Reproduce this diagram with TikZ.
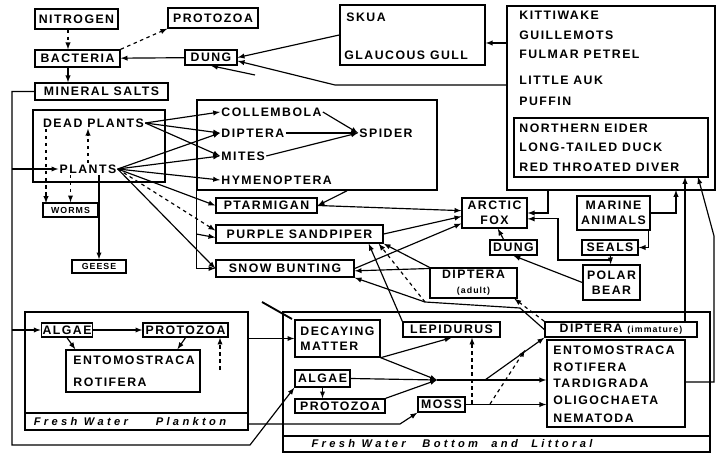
\documentclass[tikz,border=0pt]{standalone}
\usepackage{fontspec}
\setmainfont{Liberation Sans}[LetterSpace=12]
\newcommand{\lbfont}{\fontsize{10.5}{12.5}\selectfont\bfseries}
\newcommand{\smfont}{\fontsize{7.5}{9}\selectfont\bfseries}
\newcommand{\capfont}{\fontsize{9.5}{11}\selectfont\itshape\bfseries\addfontfeature{LetterSpace=30}}
\begin{document}
\begin{tikzpicture}[x=0.03cm, y=-0.03cm,
	box/.style={shape=rectangle, draw, line width=1.2pt, inner sep=1pt, font=\lbfont},
	bigbox/.style={shape=rectangle, draw, line width=1.3pt, inner sep=0pt},
	txt/.style={anchor=west, inner sep=1pt, font=\lbfont},
	lbl/.style={inner sep=1pt, font=\lbfont},
	captxt/.style={inner sep=0pt, font=\capfont},
	ln/.style={line width=1pt},
	arr/.style={line width=1pt, -latex},
	darr/.style={arr, dashed}]
	\useasboundingbox (0,0) rectangle (717,454);
	\node[box, minimum width=2.49cm, minimum height=0.6cm] (nitrogen) at (76.5,19) {NITROGEN};
	\node[box, minimum width=2.7cm, minimum height=0.6cm] (protoTop) at (213,18) {PROTOZOA};
	\node[box, minimum width=2.55cm, minimum height=0.51cm] (bacteria) at (77.5,58.5) {BACTERIA};
	\node[box, minimum width=1.56cm, minimum height=0.45cm] (dungTop) at (211,57.5) {DUNG};
	\node[box, minimum width=3.99cm, minimum height=0.51cm] (salts) at (101.5,91.5) {MINERAL SALTS};
	\node[bigbox, minimum width=4.35cm, minimum height=1.8cm] (skua) at (412.5,35) {};
	\node[txt] (skuaTxt) at (345,17) {SKUA};
	\node[txt] (gullTxt) at (343,55) {GLAUCOUS GULL};
	\node[bigbox, minimum width=6.24cm, minimum height=5.52cm] (seabirds) at (611,98) {};
	\node[txt] (kittiwake) at (518,15) {KITTIWAKE};
	\node[txt] (guillemots) at (518,35) {GUILLEMOTS};
	\node[txt] (fulmar) at (518,54) {FULMAR PETREL};
	\node[txt] (auk) at (518,80) {LITTLE AUK};
	\node[txt] (puffin) at (518,101) {PUFFIN};
	\node[bigbox, minimum width=5.82cm, minimum height=1.77cm] (eiders) at (611,147.5) {};
	\node[txt] (eider) at (518,128) {NORTHERN EIDER};
	\node[txt] (duck) at (518,147.5) {LONG-TAILED DUCK};
	\node[txt] (diver) at (518,167) {RED THROATED DIVER};
	\node[bigbox, minimum width=3.96cm, minimum height=2.16cm] (plantBox) at (99,146) {};
	\node[lbl] (dead) at (93.5,123) {DEAD PLANTS};
	\node[lbl] (plants) at (88,169) {PLANTS};
	\node[box, font=\smfont, minimum width=1.65cm, minimum height=0.42cm] (worms) at (70.5,210) {WORMS};
	\node[box, font=\smfont, minimum width=1.62cm, minimum height=0.39cm] (geese) at (99,266.5) {GEESE};
	\node[bigbox, minimum width=7.2cm, minimum height=2.7cm] (invBox) at (317,145) {};
	\node[txt] (collembola) at (220,112) {COLLEMBOLA};
	\node[txt] (diptera) at (220,133) {DIPTERA};
	\node[txt] (spider) at (358,133) {SPIDER};
	\node[txt] (mites) at (220,156) {MITES};
	\node[txt] (hymenoptera) at (220,180) {HYMENOPTERA};
	\node[box, minimum width=3.03cm, minimum height=0.45cm] (ptarmigan) at (266.5,205.5) {PTARMIGAN};
	\node[box, minimum width=5.01cm, minimum height=0.54cm] (sandpiper) at (299.5,234) {PURPLE SANDPIPER};
	\node[box, minimum width=4.14cm, minimum height=0.51cm] (bunting) at (285,268.5) {SNOW BUNTING};
	\node[box, align=center, minimum width=1.95cm, minimum height=0.9cm] (fox) at (494.5,213) {ARCTIC\\FOX};
	\node[box, minimum width=1.41cm, minimum height=0.45cm] (dungMid) at (513.5,247.5) {DUNG};
	\node[box, align=center, minimum width=2.19cm, minimum height=1.02cm] (marine) at (613.5,213) {MARINE\\ANIMALS};
	\node[box, minimum width=1.68cm, minimum height=0.45cm] (seals) at (610,247.5) {SEALS};
	\node[box, align=center, minimum width=1.71cm, minimum height=1.05cm] (bear) at (611.5,282.5) {POLAR\\BEAR};
	\node[box, align=center, minimum width=2.61cm, minimum height=0.9cm] (dipAdult) at (473.5,283) {DIPTERA\\{\smfont(adult)}};
	\node[bigbox, minimum width=6.69cm, minimum height=3.54cm] (plankton) at (136.5,371) {};
	\draw[ln] (plankton.west |- 0,413) -- (plankton.east |- 0,413);
	\node[captxt] (planktonCap) at (130,422) {Fresh Water\hspace{2.5em}Plankton};
	\node[box, minimum width=1.5cm, minimum height=0.42cm] (algaeP) at (67,330) {ALGAE};
	\node[box, minimum width=2.55cm, minimum height=0.42cm] (protoP) at (185.5,330) {PROTOZOA};
	\node[bigbox, minimum width=4.02cm, minimum height=1.26cm] (entoP) at (133,371) {};
	\node[txt] (entoPa) at (72,360) {ENTOMOSTRACA};
	\node[txt] (entoPb) at (72,382) {ROTIFERA};
	\node[bigbox, line width=1.6pt, minimum width=12.81cm, minimum height=4.2cm] (bottom) at (496.5,382) {};
	\draw[ln, line width=1.4pt] (bottom.west |- 0,436) -- (bottom.east |- 0,436);
	\node[captxt] (bottomCap) at (452,444) {Fresh Water\hspace{1.5em}Bottom\hspace{1.2em}and\hspace{1.2em}Littoral};
	\node[box, align=left, minimum width=2.55cm, minimum height=1.11cm] (decay) at (337.5,338.5) {DECAYING\\MATTER};
	\node[box, minimum width=2.91cm, minimum height=0.45cm] (lepidurus) at (451.5,329.5) {LEPIDURUS};
	\node[box, minimum width=1.65cm, minimum height=0.51cm] (algaeB) at (322.5,378.5) {ALGAE};
	\node[box, minimum width=2.7cm, minimum height=0.42cm] (protoB) at (340,406) {PROTOZOA};
	\node[box, minimum width=1.41cm, minimum height=0.45cm] (moss) at (441.5,404.5) {MOSS};
	\node[box, minimum width=4.56cm, minimum height=0.45cm] (dipImm) at (621,329.5) {DIPTERA {\smfont(immature)}};
	\node[bigbox, minimum width=4.14cm, minimum height=2.61cm] (entoB) at (616,383.5) {};
	\node[txt] (entoBa) at (552,350) {ENTOMOSTRACA};
	\node[txt] (entoBb) at (552,367) {ROTIFERA};
	\node[txt] (entoBc) at (552,383.5) {TARDIGRADA};
	\node[txt] (entoBd) at (552,400.5) {OLIGOCHAETA};
	\node[txt] (entoBe) at (552,418) {NEMATODA};
	\coordinate (nitroDown) at (68,0);
	\coordinate (sbBend) at (335,85);
	\coordinate (skuaIn) at (485,43);
	\coordinate (stub) at (255,75);
	\coordinate (loopBot) at (12,445);
	\coordinate (loopEnd) at (250,445);
	\coordinate (mossBend) at (400,424);
	\coordinate (cornerA) at (262,302);
	\coordinate (cornerB) at (292,319);
	\coordinate (wormsIn) at (46,203);
	\coordinate (invOut) at (347,190);
	\coordinate (dImmA) at (520,308);
	\coordinate (dImmB) at (425,302);
	\coordinate (sbFox) at (548,190);
	\coordinate (mbUp) at (676,190);
	\coordinate (bearFox) at (558,260);
	\coordinate (eidIn) at (685,177);
	\coordinate (rightA) at (714,382);
	\coordinate (rightB) at (714,236);
	\coordinate (rightC) at (698,177);
	\coordinate (conv) at (437,380);
	\coordinate (split) at (485,380);
	\coordinate (mossR) at (472,404);
	\coordinate (mossD) at (490,404);
	\coordinate (mossTip) at (525,350);
	\coordinate (pdash) at (220,370);
	\draw[darr] (nitrogen.south -| nitroDown) -- (bacteria.north -| nitroDown);
	\draw[arr] (bacteria.south -| nitroDown) -- (salts.north -| nitroDown);
	\draw[arr] (dungTop) -- (bacteria);
	\draw[darr] (bacteria.north east) -- (protoTop.south west);
	\draw[arr] (skua.west) -- (dungTop.east);
	\draw[arr] (seabirds.west |- sbBend) -- (sbBend) -- ([yshift=-3pt]dungTop.east);
	\draw[arr] (seabirds.west |- skuaIn) -- (skua.east |- skuaIn);
	\draw[arr] (stub) -- (dungTop.south);
	\draw[arr] (salts.west) -| (loopBot) -- (loopEnd) -- (algaeB.south west);
	\draw[arr] (plants.west -| loopBot) -- (plants.west);
	\draw[arr] (algaeP.west -| loopBot) -- (algaeP.west);
	\draw[arr] (plankton.east |- decay.west) -- (decay.west);
	\draw[arr] (plankton.east |- mossBend) -- (mossBend) -- (moss.south west);
	\draw[ln, line width=1.6pt] (cornerA) -- (cornerB);
	\draw[arr] (dead.east) -- (collembola.west);
	\draw[arr] (dead.east) -- (diptera.west);
	\draw[arr] (dead.east) -- (mites.west);
	\draw[arr] (plants.east) -- (diptera.west);
	\draw[arr] (plants.east) -- (mites.west);
	\draw[arr] (plants.east) -- (hymenoptera.west);
	\draw[arr] (plants.east) -- (ptarmigan.west);
	\draw[darr] (plants.east) -- ([yshift=3pt]sandpiper.west);
	\draw[arr] (plants.east) -- (bunting.west);
	\draw[darr] (plants.north) -- (plants.north |- dead.south);
	\draw[darr] (dead.south -| wormsIn) -- (wormsIn);
	\draw[darr] (plants.south -| worms.north) -- (worms.north);
	\draw[arr] (plants.south -| geese.north) -- (geese.north);
	\draw[arr] (collembola.east) -- (spider.west);
	\draw[arr] (diptera.east) -- (spider.west);
	\draw[arr] (mites.east) -- (spider.west);
	\draw[arr] (invBox.south -| invOut) -- (ptarmigan.east);
	\draw[arr] (invBox.south west) |- (bunting.west);
	\draw[arr] (invBox.south west |- sandpiper.west) -- ([yshift=-3pt]sandpiper.west);
	\draw[arr] (ptarmigan.east) -- ([yshift=2pt]fox.west);
	\draw[arr] (sandpiper.east) -- ([yshift=-3pt]fox.west);
	\draw[arr] (bunting.east) -- ([yshift=-9pt]fox.west);
	\draw[arr] (dipAdult.west |- bunting.east) -- ([yshift=-2pt]bunting.east);
	\draw[arr] (dipImm.west) -- (dImmA) -- (dImmB) -- (bunting.south east);
	\draw[darr] (dImmB) -- ([xshift=-0.15cm]sandpiper.south east);
	\draw[arr] (lepidurus.north west) -- ([xshift=-0.45cm]sandpiper.south east);
	\draw[arr] (dipAdult.north west) -- (sandpiper.south east);
	\draw[darr] (dipImm.north west) -- ([xshift=-0.1cm]dipAdult.south east);
	\draw[arr] (sbFox) |- (fox.east);
	\draw[arr] (marine.east) -| (mbUp);
	\draw[arr] ([xshift=-2pt]marine.south east) |- (seals.east);
	\draw[arr] (seals) -- (bear);
	\draw[arr] (bear.north |- bearFox) -- (bearFox) |- ([yshift=-5pt]fox.east);
	\draw[arr] (bear.west) -- (dungMid.south);
	\draw[arr] ([xshift=-0.3cm]dungMid.north) -- ([xshift=0.1cm]fox.south);
	\draw[arr] (dipImm.north -| eidIn) -- (eidIn);
	\draw[arr] (entoB.east |- rightA) -- (rightA) -- (rightB) -- (rightC);
	\draw[arr] (decay.south east) -- (lepidurus.south);
	\draw[arr] (decay.south east) -- (conv);
	\draw[arr] (algaeB.east) -- (conv);
	\draw[arr] (protoB.north east) -- (conv);
	\draw[arr] (conv) -- (entoB.west |- conv);
	\draw[arr] (split) -- (dipImm.south west);
	\draw[arr] (algaeB.south) -- (algaeB.south |- protoB.north);
	\draw[arr] (moss.east) -- (entoB.west |- moss.east);
	\draw[darr] (mossR) -- (lepidurus.south -| mossR);
	\draw[darr] (mossD) -- (mossTip);
	\draw[arr] (algaeP) -- (protoP);
	\draw[arr] (algaeP.south) -- ([xshift=0.3cm]entoP.north west);
	\draw[arr] (protoP.south) -- ([xshift=-0.7cm]entoP.north east);
	\draw[darr] (pdash) -- (protoP.south east -| pdash);
\end{tikzpicture}
\end{document}
